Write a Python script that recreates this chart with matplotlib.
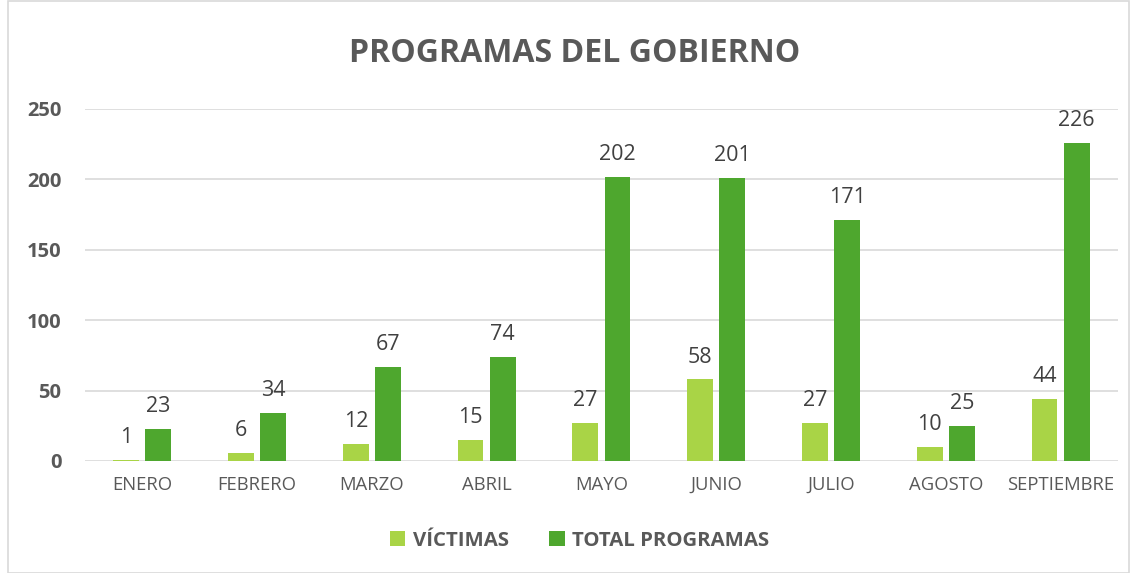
import numpy as np
import matplotlib
matplotlib.use("Agg")
import matplotlib.pyplot as plt
from matplotlib.patches import Rectangle

# Data
months = ["ENERO", "FEBRERO", "MARZO", "ABRIL", "MAYO", "JUNIO", "JULIO", "AGOSTO", "SEPTIEMBRE"]
victimas = [1, 6, 12, 15, 27, 58, 27, 10, 44]
total_programas = [23, 34, 67, 74, 202, 201, 171, 25, 226]
yticks = [0, 50, 100, 150, 200, 250]

light_green = "#A9D446"
dark_green = "#4EA72E"
text_col = "#595959"

plt.rcParams['font.family'] = ['Open Sans', 'DejaVu Sans']

fig = plt.figure(figsize=(11.32, 5.73), dpi=100)
ax = fig.add_axes([0.075, 0.1955, 0.9126, 0.6143])

x = np.arange(len(months))
w = 0.225
off = 0.14
b1 = ax.bar(x - off, victimas, w, color=light_green, label="VÍCTIMAS", zorder=3)
b2 = ax.bar(x + off, total_programas, w, color=dark_green, label="TOTAL PROGRAMAS", zorder=3)

# value labels
for bars in (b1, b2):
    for rect in bars:
        h = rect.get_height()
        ax.annotate(str(int(h)), (rect.get_x() + rect.get_width() / 2, h),
                    xytext=(0, 8.5), textcoords="offset points",
                    ha="center", va="bottom", fontsize=15.5, color="#404040")

ax.set_xlim(-0.5, len(months) - 0.5)
ax.set_ylim(0, 250)
ax.set_yticks(yticks)
ax.set_yticklabels([str(t) for t in yticks], fontsize=14.5, fontweight="bold", color=text_col)
ax.set_xticks(x)
ax.set_xticklabels(months, fontsize=13.3, color=text_col)
ax.tick_params(axis="both", length=0)
ax.tick_params(axis="y", pad=17)
ax.tick_params(axis="x", pad=11)
for lbl in ax.get_xticklabels():
    lbl.set_x(lbl.get_position()[0])

ax.grid(axis="y", color="#D9D9D9", linewidth=1.2, zorder=0)
for s in ax.spines.values():
    s.set_visible(False)

fig.text(0.508, 0.907, "PROGRAMAS DEL GOBIERNO", ha="center", va="center",
         fontsize=23, fontweight="bold", color=text_col)

leg = fig.legend(handles=[b1, b2], loc="center", bbox_to_anchor=(0.512, 0.056),
                 ncol=2, frameon=False, fontsize=14.7, handlelength=0.75, handleheight=0.75,
                 columnspacing=2.0, handletextpad=0.35)
for t in leg.get_texts():
    t.set_fontweight("bold")
    t.set_color(text_col)

# chart border
fig.patches.append(Rectangle((0.007, 0.0), 0.99, 0.998, transform=fig.transFigure,
                             fill=False, edgecolor="#D9D9D9", linewidth=1.2))

fig.savefig("out.png", dpi=100)
